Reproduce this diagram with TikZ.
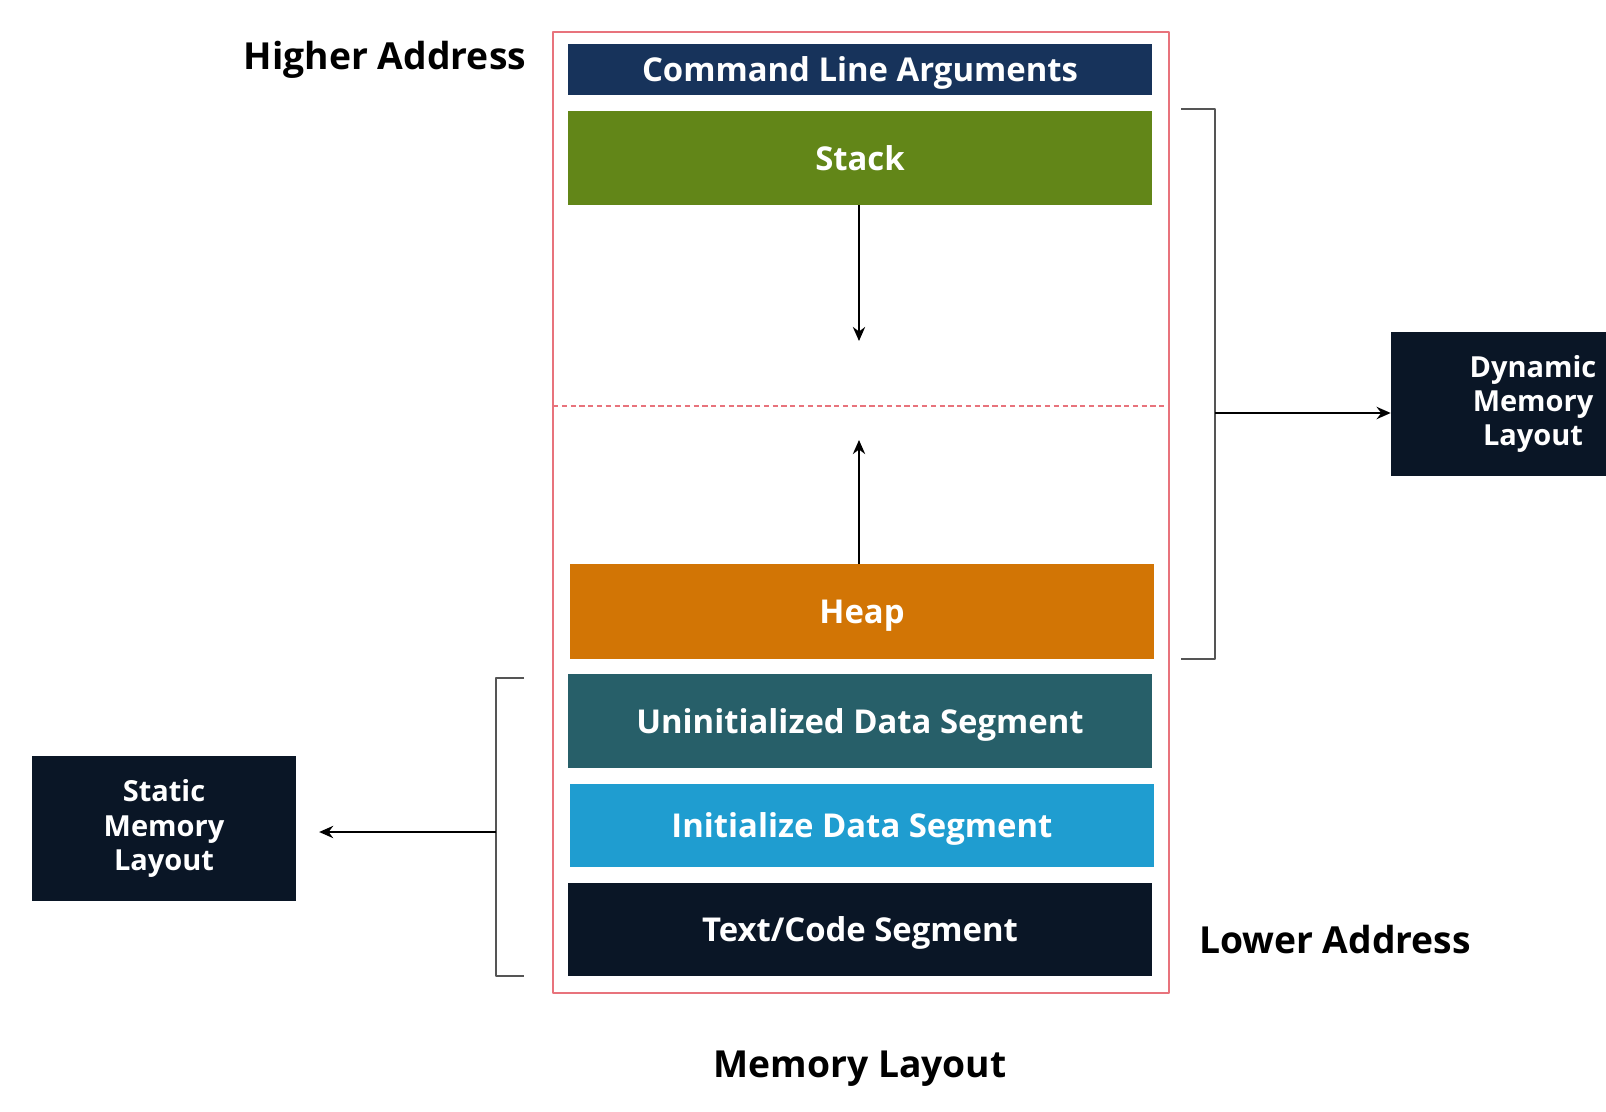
\documentclass[tikz,border=0pt]{standalone}
\usepackage{fontspec}
\setmainfont{Open Sans}
\usetikzlibrary{positioning,arrows.meta}
\definecolor{argsblue}{HTML}{17335B}
\definecolor{stackgreen}{HTML}{628618}
\definecolor{heaporange}{HTML}{D27505}
\definecolor{bssteal}{HTML}{275F69}
\definecolor{datablue}{HTML}{1F9DD0}
\definecolor{codenavy}{HTML}{0A1626}
\definecolor{memred}{HTML}{E8737C}
\definecolor{brackgray}{HTML}{555555}
\tikzset{
  seg/.style={rectangle, text=white, inner sep=0pt, minimum width=11.68cm,
    text depth=0pt, font=\bfseries\fontsize{18.7}{20}\selectfont},
  sidebox/.style={rectangle, fill=codenavy, text=white, align=center, inner sep=0pt,
    minimum height=2.9cm, font=\bfseries\fontsize{16.5}{19.5}\selectfont},
  addr/.style={inner sep=0pt, text=black, font=\bfseries\fontsize{21.2}{24}\selectfont}
}
\begin{document}
\begin{tikzpicture}[x=0.02cm, y=-0.02cm, line join=round, >={Stealth[length=8pt,width=7pt]}]
\clip (0,0) rectangle (1606,1112);
% outer frame of the process memory
\draw[memred, line width=0.8pt] (553,32) rectangle (1169,993);
\draw[memred, line width=0.8pt, dash pattern=on 3pt off 2pt] (553,406) -- (1169,406);
% segments
\node[seg, fill=argsblue, minimum height=1.02cm] (args) at (860,69.5) {Command Line Arguments};
\node[seg, fill=stackgreen, minimum height=1.88cm] (stack) at (860,158) {Stack};
\node[seg, fill=heaporange, minimum height=1.9cm] (heap) at (862,611.5) {Heap};
\node[seg, fill=bssteal, minimum height=1.88cm] (bss) at (860,721) {Uninitialized Data Segment};
\node[seg, fill=datablue, minimum height=1.66cm] (data) at (862,825.5) {Initialize Data Segment};
\node[seg, fill=codenavy, minimum height=1.86cm] (code) at (860,929.5) {Text/Code Segment};
% growth arrows
\coordinate (stackend) at (859,341);
\coordinate (heapend) at (859,440);
\draw[->, line width=1.1pt] (stack.south -| stackend) -- (stackend);
\draw[->, line width=1.1pt] (heap.north -| heapend) -- (heapend);
% side boxes
\node[sidebox, minimum width=5.68cm] (dyn) at (1533,404) {Dynamic\\Memory\\Layout};
\node[sidebox, minimum width=5.28cm] (stat) at (164,828.5) {Static\\Memory\\Layout};
% brackets
\coordinate (dynmid) at (1215,413);
\coordinate (statmid) at (496,832);
\draw[brackgray, line width=1.2pt] (1181,109) -- (1215,109) -- (1215,659) -- (1181,659);
\draw[brackgray, line width=1.2pt] (524,678) -- (496,678) -- (496,976) -- (524,976);
\draw[->, line width=1.1pt] (dynmid) -- (dyn.west |- dynmid);
\draw[->, line width=1.1pt, shorten >=13pt] (statmid) -- (stat.east |- statmid);
% address labels
\node[addr] (high) at (385,60) {Higher Address};
\node[addr] (low) at (1335,940) {Lower Address};
\node[addr] (title) at (860,1069) {Memory Layout};
\end{tikzpicture}
\end{document}
